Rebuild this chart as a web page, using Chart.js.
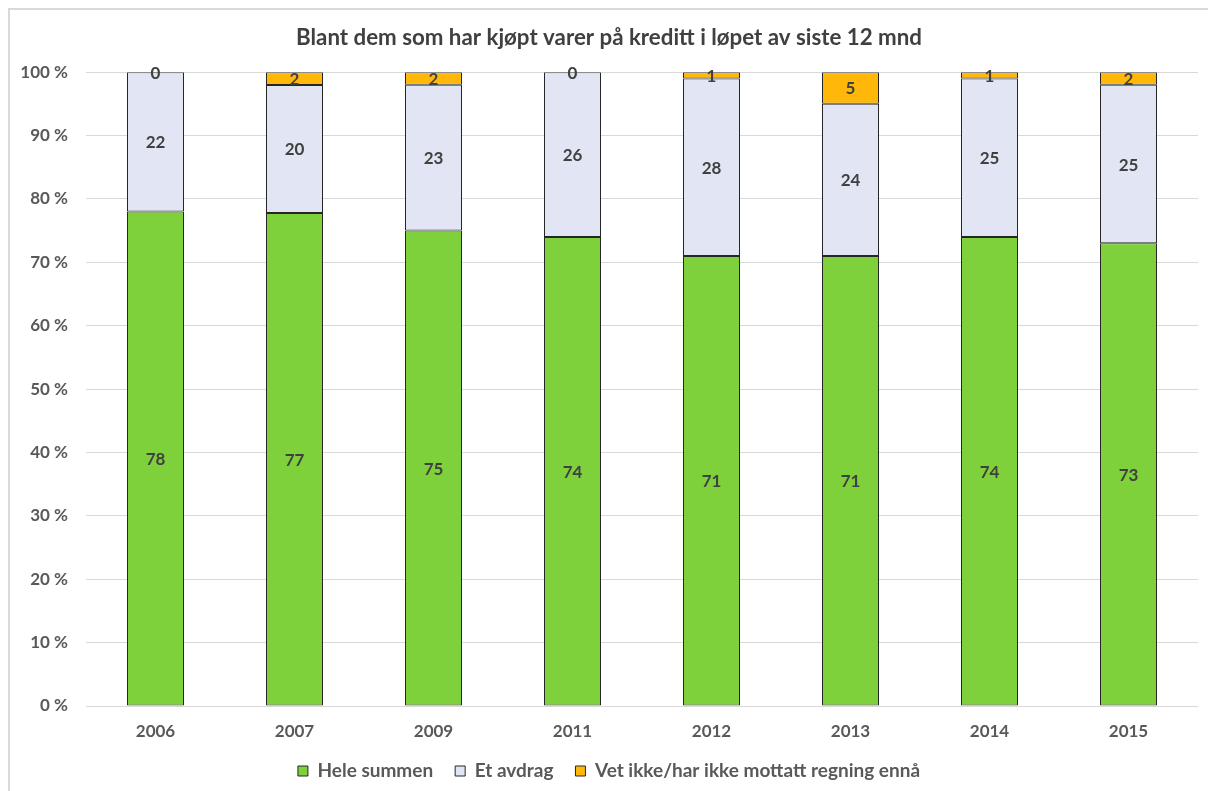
<!DOCTYPE html>
<html>
<head>
<meta charset="utf-8">
<script src="https://cdn.jsdelivr.net/npm/chart.js@4.4.1/dist/chart.umd.min.js"></script>
<style>
  html, body { margin: 0; padding: 0; background: #ffffff; }
  #wrap { width: 1208px; height: 791px; position: relative; }
</style>
</head>
<body>
<div id="wrap"><canvas id="chart" width="1208" height="791"></canvas></div>
<script>
// Survey years
const years = ['2006', '2007', '2009', '2011', '2012', '2013', '2014', '2015'];
// Answers (percent) per year
const heleSummen = [78, 77, 75, 74, 71, 71, 74, 73];
const etAvdrag = [22, 20, 23, 26, 28, 24, 25, 25];
const vetIkke = [0, 2, 2, 0, 1, 5, 1, 2];
// Y axis tick values
const yTicks = [0, 10, 20, 30, 40, 50, 60, 70, 80, 90, 100];

const FONT = 'Lato, "Open Sans", sans-serif';

// Each column is scaled so its three answers fill 100 %
const totals = years.map((_, i) => heleSummen[i] + etAvdrag[i] + vetIkke[i]);
const share = arr => arr.map((v, i) => v / totals[i] * 100);

// Thin frame around the chart object
const framePlugin = {
  id: 'frame',
  beforeDraw(chart) {
    const ctx = chart.ctx;
    ctx.save();
    ctx.fillStyle = '#ffffff';
    ctx.fillRect(0, 0, chart.width, chart.height);
    ctx.strokeStyle = '#d9d9d9';
    ctx.lineWidth = 2;
    ctx.beginPath();
    ctx.moveTo(9, chart.height);
    ctx.lineTo(9, 9);
    ctx.lineTo(chart.width, 9);
    ctx.stroke();
    ctx.restore();
  }
};

// Value labels centred in each segment
const valueLabels = {
  id: 'valueLabels',
  afterDatasetsDraw(chart) {
    const ctx = chart.ctx;
    ctx.save();
    ctx.font = 'bold 17px ' + FONT;
    ctx.fillStyle = '#404040';
    ctx.textAlign = 'center';
    ctx.textBaseline = 'middle';
    chart.data.datasets.forEach((ds, di) => {
      const meta = chart.getDatasetMeta(di);
      meta.data.forEach((bar, i) => {
        const y = (bar.y + bar.base) / 2;
        ctx.fillText(String(ds.raw[i]), bar.x, y + 1);
      });
    });
    ctx.restore();
  }
};

const mkSet = (label, raw, color) => ({
  label,
  raw,
  data: share(raw),
  backgroundColor: color,
  borderColor: '#262626',
  borderWidth: 1,
  borderSkipped: false,
  inflateAmount: 0,
  barThickness: 57
});

new Chart(document.getElementById('chart'), {
  type: 'bar',
  data: {
    labels: years,
    datasets: [
      mkSet('Hele summen', heleSummen, '#7ed13a'),
      mkSet('Et avdrag', etAvdrag, '#e2e6f4'),
      mkSet('Vet ikke/har ikke mottatt regning ennå', vetIkke, '#ffb80a')
    ]
  },
  options: {
    responsive: false,
    animation: false,
    devicePixelRatio: 1,
    layout: { padding: { left: 20, right: 10, top: 0, bottom: 0.5 } },
    plugins: {
      title: {
        display: true,
        text: 'Blant dem som har kjøpt varer på kreditt i løpet av siste 12 mnd',
        color: '#404040',
        font: { family: FONT, size: 22.3, weight: 'bold' },
        padding: { top: 24, bottom: 21.4 }
      },
      legend: {
        position: 'bottom',
        labels: {
          color: '#595959',
          font: { family: FONT, size: 19, weight: 'bold' },
          boxWidth: 10,
          boxHeight: 10,
          padding: 22,
          useBorderRadius: false
        }
      },
      tooltip: { enabled: false }
    },
    scales: {
      x: {
        stacked: true,
        afterFit(scale) { scale.height = 33.5; },
        grid: { display: false, drawTicks: false },
        border: { display: false },
        ticks: {
          color: '#595959',
          font: { family: FONT, size: 17, weight: 'bold' },
          padding: 15
        }
      },
      y: {
        stacked: true,
        min: 0,
        max: 100,
        afterBuildTicks(scale) { scale.ticks = yTicks.map(v => ({ value: v })); },
        afterFit(scale) { scale.width = 66; },
        grid: { color: '#d9d9d9', lineWidth: 1, drawTicks: false },
        border: { display: false },
        ticks: {
          color: '#595959',
          font: { family: FONT, size: 17, weight: 'bold' },
          padding: 18,
          callback: v => v + ' %'
        }
      }
    }
  },
  plugins: [framePlugin, valueLabels]
});
</script>
</body>
</html>
